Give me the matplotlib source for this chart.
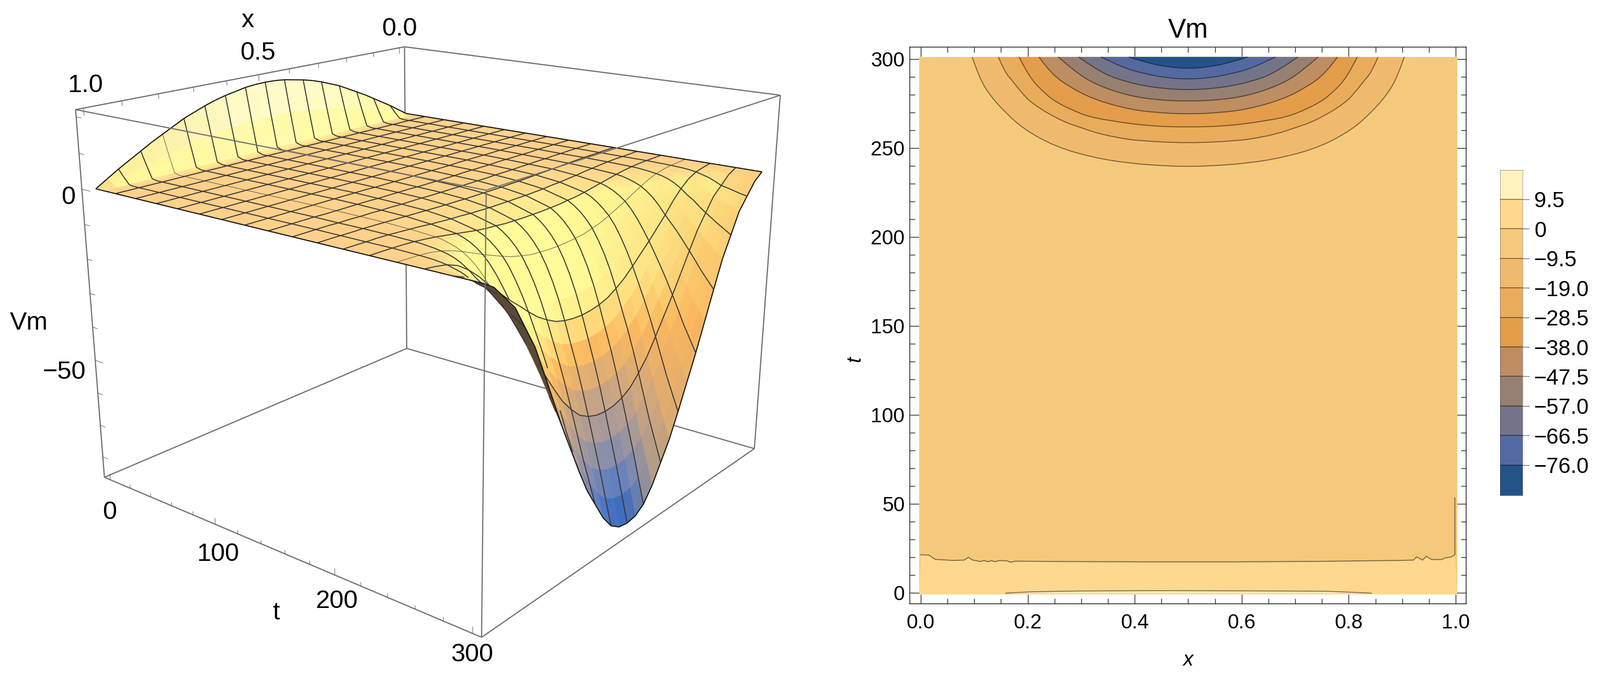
import numpy as np
import matplotlib
matplotlib.use('Agg')
import matplotlib.pyplot as plt
from matplotlib.colors import LinearSegmentedColormap, to_rgb
from matplotlib.patches import PathPatch
from matplotlib.path import Path
from mpl_toolkits.mplot3d import proj3d
from mpl_toolkits.mplot3d.art3d import Poly3DCollection, Line3DCollection

plt.rcParams['font.family'] = ['Liberation Sans', 'DejaVu Sans']

W, H = 3060, 1292

# surface values, x = 0 .. 0.5 (right half mirrors it)
x_half = [0, 1/32, 2/32, 3/32, 4/32, 5/32, 6/32, 7/32, 8/32, 9/32, 10/32, 11/32, 12/32, 13/32, 14/32, 15/32, 16/32]
t_rows = [0, 4.7, 9.4, 14.1, 18.75, 37.5, 56.25, 75, 93.75, 112.5, 131.25, 150, 168.75, 187.5, 206.25, 225,
          229.7, 234.4, 239.1, 243.75, 248.4, 253.1, 257.8, 262.5, 267.2, 271.9, 276.6, 281.25, 285.9, 290.6, 295.3, 300]
mesh_t = [18.75, 37.5, 56.25, 75, 93.75, 112.5, 131.25, 150, 168.75, 187.5, 206.25, 225, 243.75, 262.5, 281.25]
vm_half = [
    [0, 2, 4, 5.8, 7.6, 9.4, 11, 12.6, 14.2, 15.4, 16.6, 17.6, 18.4, 19, 19.6, 19.9, 20],
    [0, 1, 2, 2.9, 3.8, 4.7, 5.5, 6.3, 7.1, 7.7, 8.3, 8.8, 9.2, 9.5, 9.8, 10, 10],
    [0, .1, .2, .2, .3, .3, .4, .4, .5, .5, .5, .6, .6, .6, .6, .6, .6],
    [0, 0, 0, 0, 0, 0, 0, 0, 0, 0, 0, 0, 0, 0, 0, 0, 0],
    [0, 0, 0, 0, 0, 0, 0, 0, 0, 0, 0, 0, 0, 0, 0, 0, 0],
    [0, 0, 0, 0, 0, 0, 0, 0, 0, 0, 0, 0, 0, 0, 0, 0, 0],
    [0, 0, 0, 0, 0, 0, 0, 0, 0, 0, 0, 0, 0, 0, 0, 0, 0],
    [0, 0, 0, 0, 0, 0, 0, 0, 0, 0, 0, 0, 0, 0, 0, 0, 0],
    [0, 0, 0, 0, 0, 0, 0, 0, 0, 0, 0, 0, 0, 0, 0, 0, 0],
    [0, 0, 0, 0, 0, 0, 0, 0, 0, 0, 0, 0, 0, 0, 0, 0, 0],
    [0, 0, 0, 0, 0, 0, 0, 0, 0, 0, 0, 0, -.1, -.1, -.1, -.1, -.1],
    [0, 0, 0, 0, 0, -.1, -.1, -.1, -.1, -.1, -.2, -.2, -.2, -.2, -.3, -.3, -.3],
    [0, 0, 0, 0, -.1, -.1, -.2, -.2, -.3, -.3, -.4, -.4, -.4, -.5, -.5, -.5, -.5],
    [0, 0, -.05, -.1, -.1, -.2, -.3, -.4, -.5, -.6, -.7, -.8, -.9, -.9, -1, -1, -1],
    [0, -.05, -.1, -.1, -.2, -.4, -.6, -.8, -1.1, -1.3, -1.5, -1.6, -1.8, -1.9, -2, -2, -2],
    [0, -.05, -.1, -.2, -.4, -.7, -1.1, -1.6, -2.1, -2.6, -3.1, -3.5, -3.7, -4, -4.1, -4.2, -4.2],
    [0, -.05, -.15, -.3, -.5, -.9, -1.4, -2, -2.7, -3.3, -3.9, -4.4, -4.8, -5.1, -5.3, -5.4, -5.4],
    [0, -.1, -.2, -.35, -.7, -1.2, -1.9, -2.7, -3.5, -4.3, -5.1, -5.8, -6.2, -6.6, -6.8, -7, -7],
    [0, -.1, -.25, -.45, -.9, -1.6, -2.5, -3.5, -4.6, -5.6, -6.6, -7.4, -8, -8.5, -8.8, -8.9, -9],
    [0, -.15, -.3, -.6, -1.2, -2.1, -3.3, -4.6, -6, -7.2, -8.4, -9.5, -10.2, -10.9, -11.2, -11.4, -11.5],
    [0, -.2, -.4, -.8, -1.6, -2.9, -4.5, -6.2, -7.9, -9.4, -10.8, -12.2, -13.2, -14, -14.4, -14.7, -14.8],
    [0, -.25, -.5, -1, -2.2, -3.9, -6, -8.2, -10.3, -12.1, -13.9, -15.5, -16.7, -17.8, -18.3, -18.7, -18.8],
    [0, -.3, -.7, -1.5, -3.1, -5.3, -8, -10.6, -13.1, -15.2, -17.4, -19.3, -20.9, -22.2, -22.9, -23.4, -23.5],
    [0, -.4, -1, -2.2, -4.3, -7, -10.3, -13.2, -16.1, -18.7, -21.4, -23.9, -25.8, -27.4, -28.3, -28.8, -29],
    [0, -.5, -1.5, -3, -5.8, -8.8, -12.4, -15.9, -19.4, -22.6, -25.8, -28.8, -31.2, -33.1, -34.2, -34.8, -35],
    [0, -.7, -2, -4, -7, -10.5, -14.5, -18.7, -22.8, -26.5, -30.3, -33.7, -36.5, -38.7, -40, -40.8, -41],
    [0, -1, -2.8, -5, -8.6, -12.3, -16.9, -21.6, -26.4, -30.7, -35.1, -39.1, -42.3, -44.9, -46.4, -47.2, -47.5],
    [0, -1.3, -3.7, -6, -10, -14, -19.3, -24.8, -30.2, -35.2, -40.2, -44.9, -48.5, -51.5, -53.2, -54.2, -54.5],
    [0, -1.5, -4.1, -6.8, -11.3, -15.8, -21.8, -28.1, -34.2, -39.9, -45.5, -50.8, -54.9, -58.3, -60.2, -61.3, -61.7],
    [0, -1.7, -4.6, -7.6, -12.6, -17.7, -24.4, -31.4, -38.3, -44.6, -50.9, -56.8, -61.4, -65.2, -67.3, -68.6, -69],
    [0, -1.8, -5.1, -8.3, -13.8, -19.3, -26.7, -34.4, -41.9, -48.8, -55.7, -62.1, -67.2, -71.8, -75, -76.6, -77],
    [0, -2, -5.5, -9, -15, -21, -29, -37.3, -45.5, -53, -60.5, -67.5, -73, -78.5, -82.5, -84.5, -85],
]

xlim3d = (-0.02, 1.02)
tlim3d = (-6, 306)
zlim3d = (-86.5, 22)

# contour lines of the right panel: half width around x = 0.5 and t
hw_95 = [.404, .391, .372, .343, .307, .2475, .179, .111, .038, 0]
t_95 = [301.2, 289.9, 280.1, 270.3, 260.5, 250.7, 244.8, 241.4, 239.9, 239.7]
hw_19 = [.355, .343, .329, .314, .293, .238, .196, .166, .127, .093, 0]
t_19 = [301.2, 292.8, 287.9, 282.1, 275.1, 265.3, 261, 258, 255.6, 254.1, 252.7]
hw_285 = [.316, .298, .266, .246, .22, .188, .147, .075, 0]
t_285 = [301.2, 289.9, 280.1, 275.7, 271.8, 267.8, 265.4, 262.4, 261.7]
hw_38 = [.279, .257, .22, .175, .111, .056, 0]
t_38 = [301.2, 291.9, 284, 277.2, 271.8, 269.8, 269.1]
hw_475 = [.243, .211, .175, .12, .066, 0]
t_475 = [301.2, 292.8, 286, 280.1, 277.2, 276.2]
hw_57 = [.205, .166, .12, .066, 0]
t_57 = [301.2, 292.8, 287.5, 284, 282.5]
hw_665 = [.163, .12, .075, .038, 0]
t_665 = [301.2, 294.8, 291.4, 289.4, 288.7]
hw_76 = [.111, .075, .038, 0]
t_76 = [301.2, 297.7, 295.6, 294.6]
hw_all = [hw_95, hw_19, hw_285, hw_38, hw_475, hw_57, hw_665, hw_76]
t_all = [t_95, t_19, t_285, t_38, t_475, t_57, t_665, t_76]

x_zero = [0, .015, .027, .061, .081, .089, .097, .112, .118, .126, .132, .139, .146, .161, .168, .177, .252, .411,
          .589, .753, .834, .894, .921, .927, .938, .945, .955, .974, .98, .991, .9985, .9985]
t_zero = [21.4, 21.2, 18.8, 18.2, 18.4, 19.9, 18.4, 17.6, 18.2, 17.5, 18.1, 17.5, 18.1, 18, 17.2, 17.8, 17.6, 17.4,
          17.4, 17.7, 18, 18.2, 18.4, 20.2, 18.4, 20.5, 18.7, 18.7, 19.6, 20.1, 21.4, 53.4]
x_top = [.159, .202, .252, .298, .443, .57, .753, .798, .842]
t_top = [-.2, .5, .8, 1, 1.2, 1.1, .9, .4, -.2]

bar_edges = [18.9, 9.5, 0, -9.5, -19, -28.5, -38, -47.5, -57, -66.5, -76, -85.8]
bar_colors = ['#FFF2BC', '#FDD88E', '#F5C97C', '#F0BA6E', '#E9AC5B', '#E39D4B', '#BC8E62', '#978071', '#73748A', '#5469A0', '#24538A']
bar_ticks = [9.5, 0, -9.5, -19, -28.5, -38, -47.5, -57, -66.5, -76]
bar_labels = ['9.5', '0', '\u22129.5', '\u221219.0', '\u221228.5', '\u221238.0', '\u221247.5', '\u221257.0', '\u221266.5', '\u221276.0']


def px_axes(left, top, right, bottom, **kw):
    return fig.add_axes([left / W, 1 - bottom / H, (right - left) / W, (bottom - top) / H], **kw)


def label(px, py, s, size, **kw):
    fig.text(px / W, 1 - py / H, s, fontsize=size, ha='center', va='center', **kw)


def smooth_path(xc, yc):
    # read points act as quadratic control points, so the drawn line has no corners
    pts = [(xc[0], yc[0])]
    codes = [Path.MOVETO]
    for i in range(1, len(xc) - 1):
        pts.append((xc[i], yc[i]))
        codes.append(Path.CURVE3)
        if i < len(xc) - 2:
            pts.append(((xc[i] + xc[i + 1]) / 2, (yc[i] + yc[i + 1]) / 2))
        else:
            pts.append((xc[-1], yc[-1]))
        codes.append(Path.CURVE3)
    return Path(pts, codes)


fig = plt.figure(figsize=(W / 100, H / 100), dpi=100)

# left panel
ax = fig.add_axes([92.7 / W, -3.3 / H, 1444.1 / W, 1444.1 / H], projection='3d', computed_zorder=False)
ax.set_xlim(*xlim3d)
ax.set_ylim(*tlim3d)
ax.set_zlim(*zlim3d)
ax.set_axis_off()
ax.view_init(elev=18.299, azim=38.95, roll=0.039)
ax.set_proj_type('persp', focal_length=0.361)
ax.set_box_aspect((1.012, 1.02, 0.801))

X = np.concatenate([x_half, [1 - v for v in x_half[-2::-1]]])
T = np.array(t_rows)
vm = np.array(vm_half)
Z = np.hstack([vm, vm[:, -2::-1]])
XX, TT = np.meshgrid(X, T)

cmap = LinearSegmentedColormap.from_list('vm', [(0, '#2a5fa5'), (8.5 / 108.5, '#4a76c8'), (22.5 / 108.5, '#8f90a8'), (36.5 / 108.5, '#c8a484'),
                                                (49 / 108.5, '#fdbb5e'), (63 / 108.5, '#ffd070'), (77 / 108.5, '#ffe080'),
                                                (86.5 / 108.5, '#ffd08a'), (1, '#fffbc8')])
M = ax.get_proj()
xs, ys, zs = proj3d.proj_transform(XX.ravel(), TT.ravel(), Z.ravel(), M)
xs = np.asarray(xs).reshape(XX.shape)
ys = np.asarray(ys).reshape(XX.shape)
zs = np.asarray(zs).reshape(XX.shape)

polys = []
cols = []
nr, nc = Z.shape
area = np.zeros((nr - 1, nc - 1))
depth = np.zeros((nr - 1, nc - 1))
yellow = np.array(to_rgb('#fffb98'))
pale = np.array(to_rgb('#fffcc8'))
orange = np.array(to_rgb('#f9b45c'))
for i in range(nr - 1):
    for j in range(nc - 1):
        polys.append([(XX[i, j], TT[i, j], Z[i, j]), (XX[i, j + 1], TT[i, j + 1], Z[i, j + 1]),
                      (XX[i + 1, j + 1], TT[i + 1, j + 1], Z[i + 1, j + 1]), (XX[i + 1, j], TT[i + 1, j], Z[i + 1, j])])
        a = 0.
        idx = [(i, j), (i, j + 1), (i + 1, j + 1), (i + 1, j)]
        for k in range(4):
            u, v = idx[k], idx[(k + 1) % 4]
            a += xs[u] * ys[v] - xs[v] * ys[u]
        area[i, j] = a
        depth[i, j] = np.mean([zs[u] for u in idx])
        zm = np.mean([Z[u] for u in idx])
        st = abs((Z[i + 1, j] + Z[i + 1, j + 1] - Z[i, j] - Z[i, j + 1]) / 2 / 108.5) / ((T[i + 1] - T[i]) / 312)
        sx = ((Z[i, j] + Z[i + 1, j] - Z[i, j + 1] - Z[i + 1, j + 1]) / 2 / 108.5) / ((X[j + 1] - X[j]) / 1.04)
        c = np.array(cmap((zm + 86.5) / 108.5)[:3])
        wy = min(st / .6, 1) * min(max((zm + 38) / 15, 0), 1)
        top = yellow + (pale - yellow) * min(max(zm / 14, 0), 1)
        c = c * (1 - wy) + top * wy
        wo = min(max(sx * .5, 0), 1) * .7
        c = c * (1 - wo) + orange * wo
        cols.append(c)

flat = np.median(area)
back = np.sign(area) != np.sign(flat)
cols = np.array(cols)
cols[back.ravel()] = to_rgb('#5a4a35')
surf = Poly3DCollection(polys, facecolors=cols, edgecolors=cols, linewidths=.5, zorder=3)
ax.add_collection3d(surf)

# mesh lines, hidden where a nearer cell covers them
thin_row = t_rows.index(243.75)
thin_col = 26
mesh_rows = [t_rows.index(v) for v in mesh_t]
mesh_cols = list(range(2, nc - 2, 2))
seg_mesh = []
seg_ids = []
seg_thin = []
for i in mesh_rows:
    for j in range(nc - 1):
        seg_mesh.append(((XX[i, j], TT[i, j], Z[i, j]), (XX[i, j + 1], TT[i, j + 1], Z[i, j + 1])))
        seg_ids.append(((i, j), (i, j + 1)))
        seg_thin.append(i == thin_row)
for j in mesh_cols:
    for i in range(nr - 1):
        seg_mesh.append(((XX[i, j], TT[i, j], Z[i, j]), (XX[i + 1, j], TT[i + 1, j], Z[i + 1, j])))
        seg_ids.append(((i, j), (i + 1, j)))
        seg_thin.append(j == thin_col)
seg_edge = []
edge_ids = []
for j in range(nc - 1):
    for i in (0, nr - 1):
        seg_edge.append(((XX[i, j], TT[i, j], Z[i, j]), (XX[i, j + 1], TT[i, j + 1], Z[i, j + 1])))
        edge_ids.append(((i, j), (i, j + 1)))
for i in range(nr - 1):
    for j in (0, nc - 1):
        seg_edge.append(((XX[i, j], TT[i, j], Z[i, j]), (XX[i + 1, j], TT[i + 1, j], Z[i + 1, j])))
        edge_ids.append(((i, j), (i + 1, j)))


def visible(ids):
    mid = np.array([[(xs[a] + xs[b]) / 2, (ys[a] + ys[b]) / 2] for a, b in ids])
    mz = np.array([(zs[a] + zs[b]) / 2 for a, b in ids])
    keep = np.ones(len(ids), dtype=bool)
    eps = (zs.max() - zs.min()) * .015
    for i in range(15, nr - 1):
        for j in range(nc - 1):
            cell = [(i, j), (i, j + 1), (i + 1, j + 1), (i + 1, j)]
            path = Path([(xs[u], ys[u]) for u in cell] + [(xs[i, j], ys[i, j])], closed=True)
            inside = path.contains_points(mid)
            keep &= ~(inside & (depth[i, j] < mz - eps))
    return keep


keep = visible(seg_ids)
ax.add_collection3d(Line3DCollection([s_ for s_, k, n in zip(seg_mesh, keep, seg_thin) if k and not n], colors='#363634', linewidths=1.35, zorder=4))
ax.add_collection3d(Line3DCollection([s_ for s_, k, n in zip(seg_mesh, keep, seg_thin) if k and n], colors='#363634', linewidths=.6, zorder=4))
keep = visible(edge_ids)
ax.add_collection3d(Line3DCollection([s_ for s_, k in zip(seg_edge, keep) if k], colors='#141412', linewidths=1.5, zorder=5))

# box
xa, xb = xlim3d
ta, tb = tlim3d
za, zb = zlim3d
back_edges = [((xa, ta, za), (xa, ta, zb)), ((xa, ta, za), (xb, ta, za)), ((xa, ta, za), (xa, tb, za)),
              ((xa, ta, zb), (xb, ta, zb)), ((xa, ta, zb), (xa, tb, zb)), ((xa, tb, za), (xa, tb, zb)), ((xb, ta, za), (xb, ta, zb)),
              ((xa, tb, za), (xb, tb, za)), ((xb, ta, za), (xb, tb, za))]
front_edges = [((xb, tb, za), (xb, tb, zb)), ((xb, ta, zb), (xb, tb, zb)), ((xa, tb, zb), (xb, tb, zb))]
ax.add_collection3d(Line3DCollection(back_edges, colors='#6e6e6e', linewidths=1.6, zorder=1))
ax.add_collection3d(Line3DCollection(front_edges, colors='#707070', linewidths=1.6, zorder=6))

ticks = []
for v in [0, .1, .2, .3, .4, .5, .6, .7, .8, .9, 1.0]:
    ticks.append(((v, ta, zb), (v, ta, zb - (2 if v in (0, .5, 1.0) else 1.4))))
for v in range(0, 301, 20):
    ticks.append(((xb, v, za), (xb, v, za + (1.9 if v % 100 == 0 else 1.1))))
for v in range(-80, 21, 10):
    ticks.append(((xb, ta, v), (xb, ta + (8 if v % 50 == 0 else 5), v)))
ax.add_collection3d(Line3DCollection(ticks, colors='#555555', linewidths=.7, zorder=2))

label(163, 163, '1.0', 35)
label(493, 102, '0.5', 35)
label(764, 55, '0.0', 35)
label(474, 39, 'x', 35)
label(131, 377, '0', 35)
label(123, 712, '\u221250', 35)
label(55, 617, 'Vm', 35)
label(210, 980, '0', 35)
label(417, 1060, '100', 35)
label(644, 1149, '200', 35)
label(903, 1252, '300', 35)
label(528, 1172, 't', 35)

# right panel
ax2 = px_axes(1740, 90, 2804, 1154)
ax2.set_xlim(-0.0205, 1.0196)
ax2.set_ylim(-6.18, 306.76)
ax2.fill([-.003, 1.003, 1.003, -.003], [-.8, -.8, 301.2, 301.2], color=bar_colors[2], lw=0, zorder=2)
ax2.fill(x_zero[:-1] + [1.003, -.003], t_zero[:-1] + [-.8, -.8], color=bar_colors[1], lw=0, zorder=2)
ax2.fill(x_top, t_top, color=bar_colors[0], lw=0, zorder=2)
for n, (hw, tt) in enumerate(zip(hw_all, t_all)):
    xc = [.5 - v for v in hw] + [.5 + v for v in hw[-2::-1]]
    tc = list(tt) + list(tt[-2::-1])
    path = smooth_path(xc, tc)
    ax2.add_patch(PathPatch(path, facecolor=bar_colors[3 + n], edgecolor='none', lw=0, zorder=2))
    ax2.add_patch(PathPatch(path, facecolor='none', edgecolor=(0, 0, 0, .5), lw=1.3, zorder=3))
ax2.plot(x_zero, t_zero, color='black', alpha=.5, lw=1.3, zorder=3)
ax2.plot(x_top, t_top, color='black', alpha=.5, lw=1.3, zorder=3)
ax2.set_xticks([0, .2, .4, .6, .8, 1.0], ['0.0', '0.2', '0.4', '0.6', '0.8', '1.0'])
ax2.set_xticks([v * .05 for v in range(21) if v % 4 != 0], minor=True)
ax2.set_yticks([0, 50, 100, 150, 200, 250, 300])
ax2.set_yticks([v for v in range(0, 301, 10) if v % 50 != 0], minor=True)
ax2.tick_params(which='both', direction='in', top=True, right=True, width=1, color='#222222', zorder=1)
ax2.tick_params(which='major', length=13, labelsize=28)
ax2.tick_params(which='minor', length=7)
ax2.tick_params(axis='x', which='major', pad=14)
ax2.tick_params(axis='y', which='major', pad=7)
for sp in ax2.spines.values():
    sp.set_linewidth(1.1)
    sp.set_color('#222222')
label(2272, 58, 'Vm', 37)
label(2272, 1262, 'x', 28, style='italic')
label(1635, 687, 't', 28, style='italic', rotation=90)

# colour bar
cb = px_axes(2869, 325, 2912, 947)
cb.set_xlim(0, 1)
cb.set_ylim(bar_edges[-1], bar_edges[0])
for n, c in enumerate(bar_colors):
    cb.bar(.5, bar_edges[n] - bar_edges[n + 1], bottom=bar_edges[n + 1], width=1, color=c, lw=0)
cb.hlines(bar_ticks, 0, 1, color='black', alpha=.5, lw=1.2)
cb.set_xticks([])
cb.yaxis.tick_right()
cb.set_yticks(bar_ticks, bar_labels)
cb.tick_params(axis='y', length=9, width=.9, color='#666666', labelsize=30, pad=7)
for sp in cb.spines.values():
    sp.set_linewidth(.7)
    sp.set_color('#00000060')

fig.savefig('out.png', dpi=100)
